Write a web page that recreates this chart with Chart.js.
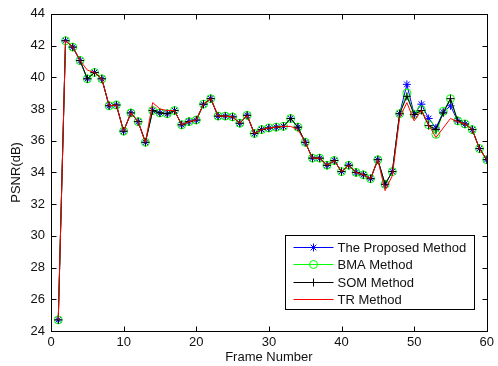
<!DOCTYPE html>
<html>
<head>
<meta charset="utf-8">
<title>PSNR per frame</title>
<script src="https://cdn.jsdelivr.net/npm/chart.js@4.4.1/dist/chart.umd.min.js"></script>
<style>
  html, body { margin: 0; padding: 0; background: #fff; }
  #wrap { width: 498px; height: 366px; }
</style>
</head>
<body>
<div id="wrap"><canvas id="psnr" width="498" height="366"></canvas></div>
<script>
// frame index on the x axis
const frames = [1,2,3,4,5,6,7,8,9,10,11,12,13,14,15,16,17,18,19,20,
  21,22,23,24,25,26,27,28,29,30,31,32,33,34,35,36,37,38,39,40,
  41,42,43,44,45,46,47,48,49,50,51,52,53,54,55,56,57,58,59,60];

// PSNR (dB)
const proposed = [24.7,42.3,41.9,41.05,39.9,40.3,39.9,38.2,38.25,36.6,
  37.75,37.2,35.9,37.9,37.75,37.7,37.9,37.0,37.2,37.3,
  38.3,38.65,37.55,37.55,37.5,37.1,37.6,36.45,36.7,36.8,
  36.85,36.9,37.4,36.85,35.9,34.9,34.9,34.45,34.75,34.05,
  34.45,34.0,33.85,33.6,34.8,33.25,34.05,37.7,39.55,37.65,
  38.3,37.4,36.8,37.8,38.2,37.25,37.05,36.7,35.5,34.8];

const bma = [24.7,42.3,41.9,41.05,39.9,40.3,39.9,38.2,38.25,36.6,
  37.75,37.2,35.9,37.9,37.75,37.7,37.9,37.0,37.2,37.3,
  38.3,38.65,37.55,37.55,37.5,37.1,37.6,36.45,36.7,36.8,
  36.85,36.9,37.4,36.85,35.9,34.9,34.9,34.45,34.75,34.05,
  34.45,34.0,33.85,33.6,34.8,33.25,34.05,37.7,39.0,37.65,
  37.95,37.0,36.4,37.85,38.65,37.25,37.05,36.7,35.5,34.8];

const som = [24.7,42.3,41.9,41.05,39.9,40.3,39.9,38.2,38.25,36.6,
  37.75,37.2,35.9,37.9,37.75,37.7,37.9,37.0,37.2,37.3,
  38.3,38.65,37.55,37.55,37.5,37.1,37.6,36.45,36.7,36.8,
  36.85,36.9,37.4,36.85,35.9,34.9,34.9,34.45,34.75,34.05,
  34.45,34.0,33.85,33.6,34.8,33.25,34.05,37.7,38.8,37.65,
  37.9,36.95,36.7,37.75,38.65,37.25,37.05,36.7,35.5,34.8];

const tr = [24.7,42.3,41.9,41.05,40.45,40.3,39.9,38.2,38.25,36.6,
  37.75,37.2,35.9,38.4,38.0,37.9,37.9,37.0,37.2,37.3,
  38.3,38.65,37.55,37.55,37.5,37.1,37.6,36.45,36.7,36.8,
  36.85,36.9,36.9,36.7,35.9,34.9,34.9,34.45,34.75,34.05,
  34.45,34.0,33.85,33.6,34.8,32.85,33.8,37.45,38.4,37.25,
  37.9,37.0,36.2,36.8,37.4,37.2,37.05,36.7,35.5,34.8];

const seriesNames = ['The Proposed Method', 'BMA Method', 'SOM Method', 'TR Method'];

const toXY = arr => arr.map((v, i) => ({ x: frames[i], y: v }));
const FONT = 'Arial, "Liberation Sans", sans-serif';

// matlab style box with inward ticks on all four sides
const boxPlugin = {
  id: 'boxTicks',
  afterDatasetsDraw(chart) {
    const { ctx, chartArea: a, scales } = chart;
    const L = Math.round(a.left) + 0.5, R = Math.round(a.right) + 0.5;
    const T = Math.round(a.top) + 0.5, B = Math.round(a.bottom) + 0.5;
    ctx.save();
    ctx.strokeStyle = '#000';
    ctx.lineWidth = 1;
    ctx.strokeRect(L, T, R - L, B - T);
    ctx.beginPath();
    scales.x.ticks.forEach(t => {
      const px = Math.round(scales.x.getPixelForValue(t.value)) + 0.5;
      ctx.moveTo(px, B); ctx.lineTo(px, B - 5);
      ctx.moveTo(px, T); ctx.lineTo(px, T + 5);
    });
    scales.y.ticks.forEach(t => {
      const py = Math.round(scales.y.getPixelForValue(t.value)) + 0.5;
      ctx.moveTo(L, py); ctx.lineTo(L + 5, py);
      ctx.moveTo(R, py); ctx.lineTo(R - 5, py);
    });
    ctx.stroke();
    ctx.restore();
  }
};

// legend drawn inside the plot, bottom right
const legendPlugin = {
  id: 'insideLegend',
  afterDraw(chart) {
    const { ctx, chartArea: a } = chart;
    const w = 189, h = 74;
    const x0 = Math.round(a.right - 202) + 0.5;
    const y0 = Math.round(a.bottom - 96) + 0.5;
    ctx.save();
    ctx.fillStyle = '#fff';
    ctx.fillRect(x0, y0, w, h);
    ctx.strokeStyle = '#000';
    ctx.lineWidth = 1;
    ctx.strokeRect(x0, y0, w, h);
    chart.data.datasets.forEach((ds, i) => {
      const yy = Math.round(y0 + 11 + i * 17.6);
      ctx.strokeStyle = ds.borderColor;
      ctx.lineWidth = 1;
      ctx.beginPath();
      ctx.moveTo(x0 + 8, yy + 0.5);
      ctx.lineTo(x0 + 48, yy + 0.5);
      ctx.stroke();
      if (ds.pointRadius > 0) {
        ctx.fillStyle = 'rgba(0,0,0,0)';
        Chart.helpers.drawPoint(ctx, {
          pointStyle: ds.pointStyle, radius: ds.pointRadius,
          rotation: 0, borderWidth: 1
        }, x0 + 28, yy + 0.5);
      }
      ctx.fillStyle = '#111';
      ctx.font = '13px ' + FONT;
      ctx.textBaseline = 'middle';
      ctx.textAlign = 'left';
      ctx.fillText(ds.label, x0 + 52, yy + 1);
    });
    ctx.restore();
  }
};

const line = (label, data, color, style, order) => ({
  label: label,
  data: toXY(data),
  borderColor: color,
  backgroundColor: color,
  borderWidth: 1,
  pointStyle: style || 'circle',
  pointRadius: style ? 4 : 0,
  pointBorderColor: color,
  pointBackgroundColor: 'rgba(0,0,0,0)',
  pointBorderWidth: 1,
  tension: 0,
  order: order
});

new Chart(document.getElementById('psnr').getContext('2d'), {
  type: 'line',
  data: {
    datasets: [
      line(seriesNames[0], proposed, '#0000ff', 'star', 3),
      line(seriesNames[1], bma, '#00ff00', 'circle', 2),
      line(seriesNames[2], som, '#000000', 'cross', 1),
      line(seriesNames[3], tr, '#ff0000', null, 0)
    ]
  },
  options: {
    responsive: false,
    animation: false,
    devicePixelRatio: 1,
    layout: { padding: { top: 12, right: 6, left: 0, bottom: 0 } },
    plugins: { legend: { display: false }, tooltip: { enabled: false } },
    scales: {
      x: {
        type: 'linear', min: 0, max: 60,
        grid: { display: false, drawTicks: false },
        border: { display: false },
        ticks: { stepSize: 10, padding: 4, maxRotation: 0, color: '#111', font: { family: FONT, size: 13 } },
        title: { display: true, text: 'Frame Number', color: '#111', font: { family: FONT, size: 13 }, padding: { top: 0, bottom: 1 } },
        afterFit(s) { s.height = 35; }
      },
      y: {
        min: 24, max: 44,
        grid: { display: false, drawTicks: false },
        border: { display: false },
        ticks: { stepSize: 2, padding: 6, color: '#111', font: { family: FONT, size: 13 } },
        title: { display: true, text: 'PSNR(dB)', color: '#111', font: { family: FONT, size: 13 }, padding: { top: 9, bottom: 0 } },
        afterFit(s) { s.width = 51; }
      }
    }
  },
  plugins: [boxPlugin, legendPlugin]
});
</script>
</body>
</html>
